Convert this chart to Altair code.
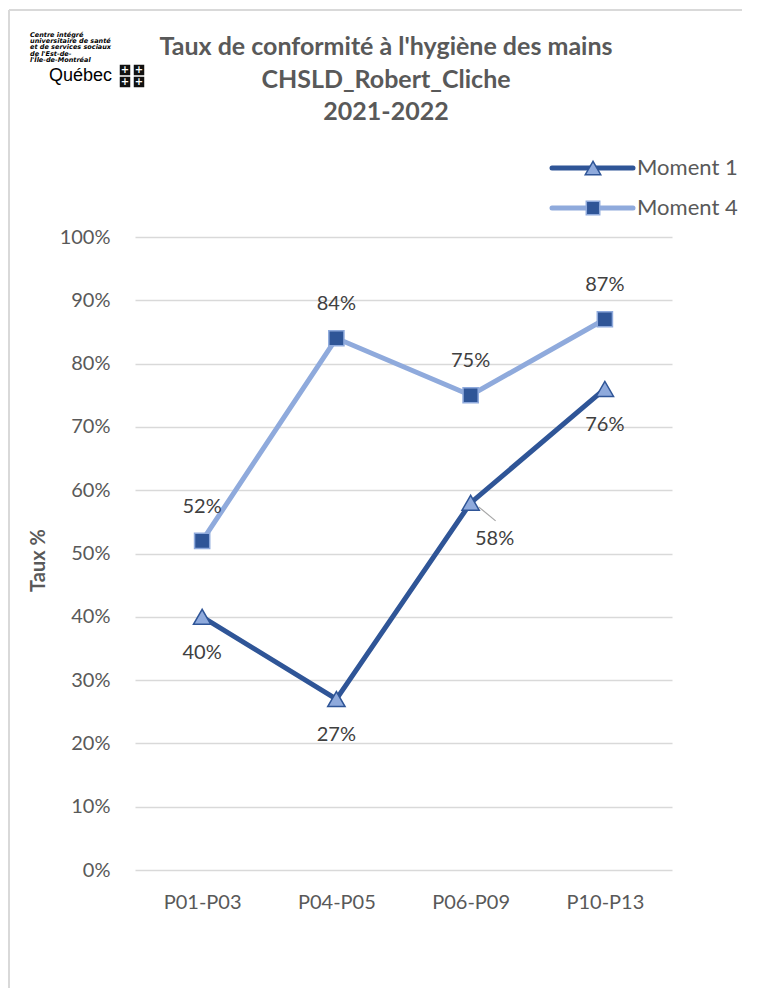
import altair as alt
import pandas as pd

periodes = ["P01-P03", "P04-P05", "P06-P09", "P10-P13"]
moment1 = [40, 27, 58, 76]
moment4 = [52, 84, 75, 87]
series = ["Moment 1", "Moment 4"]
title_lines = ["Taux de conformité à l'hygiène des mains", "CHSLD_Robert_Cliche", "2021-2022"]
logo_lines = ["Centre intégré", "universitaire de santé", "et de services sociaux",
              "de l'Est-de-", "l'Île-de-Montréal"]
y_ticks = [0, 10, 20, 30, 40, 50, 60, 70, 80, 90, 100]

DARK = "#2F5597"
LIGHT = "#8FAADC"
GRAY = "#595959"
FONT = "Lato"

rows = []
for p, v in zip(periodes, moment1):
    rows.append({"periode": p, "serie": "Moment 1", "taux": v / 100})
for p, v in zip(periodes, moment4):
    rows.append({"periode": p, "serie": "Moment 4", "taux": v / 100})
df = pd.DataFrame(rows)

W, H = 537, 633

X = alt.X("periode:N", sort=periodes, scale=alt.Scale(type="point", padding=0.5),
          axis=alt.Axis(title=None, labelAngle=0, ticks=False, domain=False, grid=False,
                        labelFontSize=20, labelColor=GRAY, labelFont=FONT,
                        labelPadding=22))
Y = alt.Y("taux:Q", scale=alt.Scale(domain=[0, 1]),
          axis=alt.Axis(format=".0%", values=[t / 100 for t in y_ticks], title="Taux %",
                        ticks=False, domain=False, labelFontSize=20, labelColor=GRAY,
                        labelFont=FONT, labelPadding=25, gridColor="#D9D9D9",
                        gridWidth=1.5, titleFontSize=20, titleFont=FONT,
                        titleFontWeight="bold", titleColor=GRAY, titleX=-97,
                        titleY=323, titleAngle=270, titleAlign="center",
                        titleBaseline="middle"))
color = alt.Color("serie:N", scale=alt.Scale(domain=series, range=[DARK, LIGHT]), legend=None)

base = alt.Chart(df)
lines = base.mark_line(strokeWidth=5).encode(x=X, y=Y, color=color)
m1 = base.transform_filter(alt.datum.serie == "Moment 1")
m4 = base.transform_filter(alt.datum.serie == "Moment 4")
tri = m1.mark_point(shape="triangle-up", filled=True, fill=LIGHT, stroke=DARK,
                    strokeWidth=1.5, size=300, opacity=1).encode(x=X, y=Y)
sq = m4.mark_point(shape="square", filled=True, fill=DARK, stroke=LIGHT,
                   strokeWidth=1.5, size=230, opacity=1).encode(x=X, y=Y)

lab_kw = dict(fontSize=20, font=FONT, color="#404040")
lab4 = m4.mark_text(dy=-34, **lab_kw).encode(x=X, y=Y, text=alt.Text("taux:Q", format=".0%"))
lab1 = m1.transform_filter(alt.datum.periode != "P06-P09").mark_text(dy=36, **lab_kw).encode(
    x=X, y=Y, text=alt.Text("taux:Q", format=".0%"))
lab1b = m1.transform_filter(alt.datum.periode == "P06-P09").mark_text(dx=24, dy=36, **lab_kw).encode(
    x=X, y=Y, text=alt.Text("taux:Q", format=".0%"))
leader = m1.transform_filter(alt.datum.periode == "P06-P09").mark_rule(
    color="#A6A6A6", strokeWidth=1.2, xOffset=8, yOffset=4, x2Offset=25, y2Offset=18).encode(
    x=X, y=Y, x2="periode:N", y2="taux:Q")

one = pd.DataFrame({"k": [0]})
deco = []
# frame
deco.append(alt.Chart(one).mark_rule(color="#D9D9D9", strokeWidth=2).encode(
    x=alt.value(-126), y=alt.value(-227), y2=alt.value(760)))
deco.append(alt.Chart(one).mark_rule(color="#D9D9D9", strokeWidth=2).encode(
    x=alt.value(-126), x2=alt.value(620), y=alt.value(-227)))
# title
for i, t in enumerate(title_lines):
    deco.append(alt.Chart(one).mark_text(fontSize=25, font=FONT, fontWeight="bold", color=GRAY,
                                         align="center", baseline="alphabetic").encode(
        x=alt.value(251), y=alt.value(-182 + 32.5 * i), text=alt.value(t)))
# logo
for i, t in enumerate(logo_lines):
    deco.append(alt.Chart(one).mark_text(fontSize=6.5, font="DejaVu Sans", fontWeight="bold",
                                         fontStyle="italic", color="#000000", align="left",
                                         baseline="alphabetic").encode(
        x=alt.value(-105), y=alt.value(-200 + 6.2 * i), text=alt.value(t)))
deco.append(alt.Chart(one).mark_text(fontSize=18, font="Liberation Sans", color="#000000",
                                     align="left", baseline="alphabetic").encode(
    x=alt.value(-86), y=alt.value(-156), text=alt.value("Québec")))
for dx in (0, 14):
    for dy in (0, 12):
        deco.append(alt.Chart(one).mark_square(size=110, color="#111111", opacity=1).encode(
            x=alt.value(-10 + dx), y=alt.value(-167 + dy)))
        deco.append(alt.Chart(one).mark_text(fontSize=10, color="white", fontWeight="bold",
                                             font="DejaVu Sans").encode(
            x=alt.value(-10 + dx), y=alt.value(-167 + dy), text=alt.value("+")))
# legend
for i, (s, c, shp, fill, stroke, size) in enumerate([
        ("Moment 1", DARK, "triangle-up", LIGHT, DARK, 240),
        ("Moment 4", LIGHT, "square", DARK, LIGHT, 180)]):
    ly = -69 + 40 * i
    deco.append(alt.Chart(one).mark_rule(color=c, strokeWidth=5, strokeCap="round").encode(
        x=alt.value(417), x2=alt.value(498), y=alt.value(ly)))
    deco.append(alt.Chart(one).mark_point(shape=shp, filled=True, fill=fill, stroke=stroke,
                                          strokeWidth=1.5, size=size, opacity=1).encode(
        x=alt.value(458), y=alt.value(ly)))
    deco.append(alt.Chart(one).mark_text(fontSize=22, font=FONT, color=GRAY, align="left",
                                         baseline="middle").encode(
        x=alt.value(502), y=alt.value(ly), text=alt.value(s)))

chart = alt.layer(lines, leader, tri, sq, lab4, lab1, lab1b, *deco).properties(
    width=W, height=H,
    background="white",
    autosize=alt.AutoSizeParams(type="none"),
    padding={"left": 127, "top": 229, "right": 70, "bottom": 118},
).configure_view(strokeWidth=0, stroke="transparent")

chart.save("out.html", embed_options={"renderer": "svg", "actions": False})
